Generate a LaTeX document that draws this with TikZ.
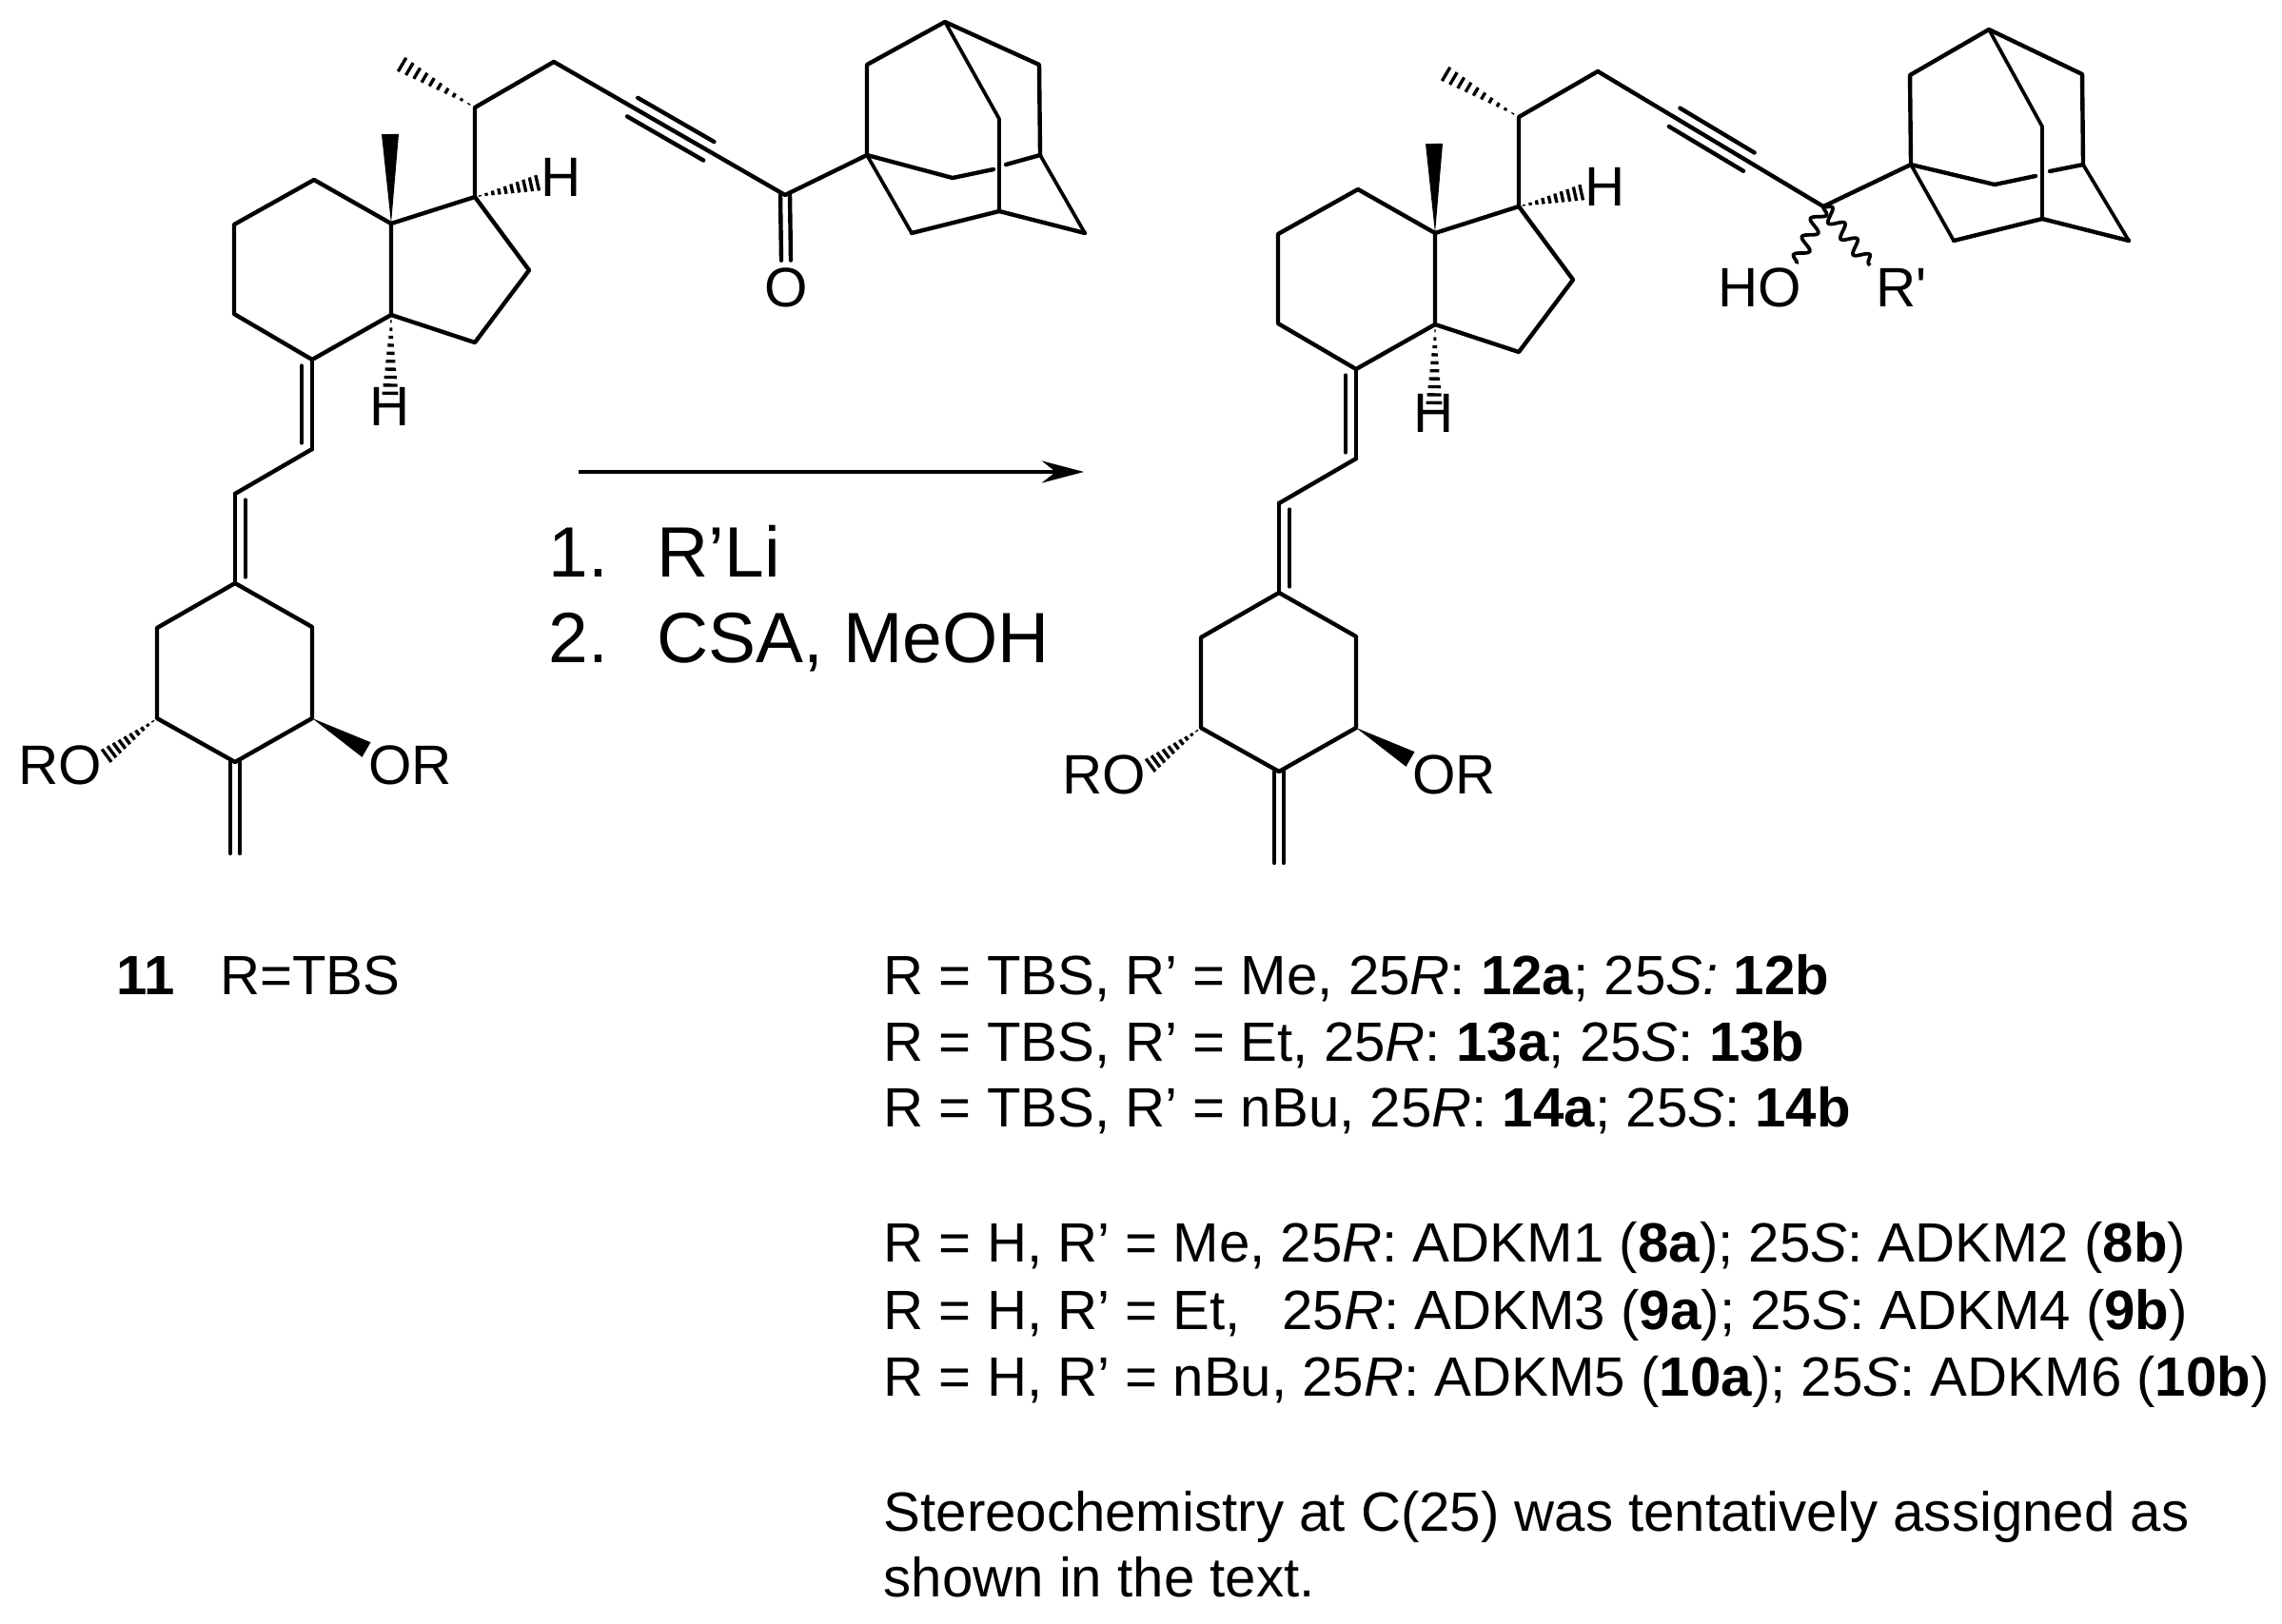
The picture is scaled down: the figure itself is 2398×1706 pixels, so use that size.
\documentclass[tikz,border=0pt]{standalone}
\usepackage{fontspec}
\setmainfont{Liberation Sans}
\usetikzlibrary{calc, positioning, arrows.meta, decorations.pathmorphing}
\tikzset{
    x=0.01cm, y=-0.01cm,
    bond/.style={line width=1.25pt, line join=round, line cap=round},
    thinbond/.style={line width=1.05pt, line join=round, line cap=round},
    atom/.style={inner sep=0pt, font=\fontsize{16.6}{16.6}\selectfont},
    reagent/.style={inner sep=0pt, anchor=base west, font=\fontsize{21.3}{21.3}\selectfont},
    legend/.style={inner sep=0pt, anchor=base west, font=\fontsize{16.55}{16.55}\selectfont},
    wavy/.style={line width=1.05pt, decorate, decoration={snake, segment length=6pt, amplitude=2pt}},
}
% hash, wedge and multiple bonds between named atoms
\newcommand{\hashbond}[3]{
    \foreach \t in {0.08,0.18,...,1.0}
        \draw[line width=0.95pt] ($(#1)!\t!(#2)!{\t*#3}!90:(#2)$) -- ($(#1)!\t!(#2)!{\t*#3}!-90:(#2)$);
}
\newcommand{\wedgebond}[3]{
    \fill (#1) -- ($(#2)!#3!90:(#1)$) -- ($(#2)!#3!-90:(#1)$) -- cycle;
}
\newcommand{\dblbond}[3]{
    \draw[bond] (#1) -- (#2);
    \draw[bond] ($(#1)!0.07!(#2)!#3!90:(#2)$) -- ($(#2)!0.07!(#1)!#3!-90:(#1)$);
}
\newcommand{\eqbond}[3]{
    \draw[bond] ($(#1)!#3!90:(#2)$) -- ($(#2)!#3!-90:(#1)$);
    \draw[bond] ($(#1)!#3!-90:(#2)$) -- ($(#2)!#3!90:(#1)$);
}
\newcommand{\triplebond}[2]{
    \draw[bond] ($(#1)!0.34!(#2)!3.2pt!90:(#2)$) -- ($(#1)!0.67!(#2)!3.2pt!90:(#2)$);
    \draw[bond] ($(#1)!0.34!(#2)!3.2pt!-90:(#2)$) -- ($(#1)!0.67!(#2)!3.2pt!-90:(#2)$);
}
% the part both molecules share
\newcommand{\seco}[1]{
    \coordinate (ca) at (411,235);
    \coordinate (cb) at (330,189);
    \coordinate (cc) at (246,236);
    \coordinate (cd) at (246,330);
    \coordinate (ce) at (328,378);
    \coordinate (cf) at (411,331);
    \coordinate (cg) at (499,207);
    \coordinate (ch) at (556,284);
    \coordinate (ci) at (499,360);
    \coordinate (cj) at (499,113);
    \coordinate (me) at (421,67);
    \coordinate (ck) at (582,65);
    \coordinate (mt) at (410,141);
    \coordinate (hg) at (566,192);
    \coordinate (hf) at (410,415);
    \coordinate (cl) at (328,472);
    \coordinate (cm) at (247,519);
    \coordinate (cn) at (247,613);
    \coordinate (co) at (165,660);
    \coordinate (cp) at (165,755);
    \coordinate (cq) at (247,801);
    \coordinate (cr) at (328,755);
    \coordinate (cs) at (328,659);
    \coordinate (ct) at (247,897);
    \coordinate (ho) at (111,795);
    \coordinate (wo) at (385,788);
    \node[atom] (hh) at (590,186) {H};
    \node[atom] (hb) at (410,#1) {H};
    \node[atom] (ro) at (63,804) {RO};
    \node[atom] (or) at (431,804) {OR};
    \draw[bond] (ca) -- (cb) -- (cc) -- (cd) -- (ce) -- (cf) -- cycle;
    \draw[bond] (ca) -- (cg) -- (ch) -- (ci) -- (cf);
    \draw[bond] (cg) -- (cj) -- (ck);
    \draw[bond] (cl) -- (cm);
    \draw[bond] (cn) -- (co) -- (cp) -- (cq) -- (cr) -- (cs) -- cycle;
    \dblbond{cl}{ce}{0.11cm}
    \dblbond{cm}{cn}{0.11cm}
    \eqbond{cq}{ct}{0.05cm}
    \wedgebond{ca}{mt}{0.09cm}
    \wedgebond{cr}{wo}{0.09cm}
    \hashbond{cj}{me}{0.085cm}
    \hashbond{cg}{hg}{0.085cm}
    \hashbond{cf}{hf}{0.085cm}
    \hashbond{cp}{ho}{0.085cm}
}
\begin{document}
\begin{tikzpicture}
    \useasboundingbox (0,0) rectangle (2398,1706);

    % starting ketone
    \begin{scope}[name prefix=l]
        \seco{427}
    \end{scope}
    \coordinate (kco) at (825,205);
    \coordinate (kb) at (911,163);
    \coordinate (kc) at (911,68);
    \coordinate (kd) at (993,23);
    \coordinate (ke) at (1092,68);
    \coordinate (kf) at (1093,163);
    \coordinate (kg) at (1050,125);
    \coordinate (kh) at (1050,222);
    \coordinate (ki) at (958,245);
    \coordinate (kj) at (1001,187);
    \coordinate (kk) at (1140,245);
    \coordinate (kgapa) at (1044,178);
    \coordinate (kgapb) at (1057,173);
    \node[atom] (koxy) at (826,302) {O};
    \coordinate (kotop) at ($(koxy.north)+(0,-7)$);
    \draw[bond] (lck) -- (kco) -- (kb);
    \triplebond{lck}{kco}
    \eqbond{kco}{kotop}{0.05cm}
    \draw[bond] (kb) -- (kc) -- (kd) -- (ke) -- (kf);
    \draw[thinbond] (kd) -- (kg) -- (kh);
    \draw[bond] (kh) -- (kk);
    \draw[thinbond] (kk) -- (kf);
    \draw[thinbond] (kb) -- (ki);
    \draw[bond] (ki) -- (kh);
    \draw[bond] (kb) -- (kj) -- (kgapa);
    \draw[bond] (kgapb) -- (kf);

    % arrow and reagents
    \coordinate (arrowa) at (608,496);
    \coordinate (arrowb) at (1139,496);
    \draw[line width=1.3pt, -{Stealth[length=0.44cm,width=0.23cm]}] (arrowa) -- (arrowb);
    \node[reagent] (numa) at (576,606) {1.};
    \node[reagent] (rgta) at (690,606) {R’Li};
    \node[reagent] (numb) at (576,696) {2.};
    \node[reagent] (rgtb) at (690,696) {CSA, MeOH};

    % product
    \begin{scope}[shift={(1097,10)}, name prefix=r]
        \seco{424}
    \end{scope}
    \coordinate (pco) at (1916,217);
    \coordinate (pb) at (2008,173);
    \coordinate (pc) at (2007,79);
    \coordinate (pd) at (2090,31);
    \coordinate (pe) at (2188,78);
    \coordinate (pf) at (2189,173);
    \coordinate (pg) at (2146,133);
    \coordinate (ph) at (2146,230);
    \coordinate (pi) at (2053,253);
    \coordinate (pj) at (2096,194);
    \coordinate (pk) at (2237,253);
    \coordinate (pgapa) at (2139,185);
    \coordinate (pgapb) at (2154,180);
    \coordinate (wa) at (1888,277);
    \coordinate (wb) at (1965,279);
    \node[atom] (hydroxy) at (1849,302) {HO};
    \node[atom] (rprime) at (1998,302) {R\textquotesingle};
    \draw[bond] (rck) -- (pco) -- (pb);
    \triplebond{rck}{pco}
    \draw[wavy] (pco) -- (wa);
    \draw[wavy] (pco) -- (wb);
    \draw[bond] (pb) -- (pc) -- (pd) -- (pe) -- (pf);
    \draw[thinbond] (pd) -- (pg) -- (ph);
    \draw[bond] (ph) -- (pk);
    \draw[thinbond] (pk) -- (pf);
    \draw[thinbond] (pb) -- (pi);
    \draw[bond] (pi) -- (ph);
    \draw[bond] (pb) -- (pj) -- (pgapa);
    \draw[bond] (pgapb) -- (pf);

    % compound labels
    \node[legend] (cpd) at (122,1045) {\textbf{11}\hspace{0.81em}R=TBS};
    \node[legend] (rowa) at (928,1045) {R = TBS, R’ = Me, 25\textit{R}: \textbf{12a}; 25\textit{S:} \textbf{12b}};
    \node[legend] (rowb) at (928,1115) {R = TBS, R’ = Et, 25\textit{R}: \textbf{13a}; 25\textit{S}: \textbf{13b}};
    \node[legend] (rowc) at (928,1184) {R = TBS, R’ = nBu, 25\textit{R}: \textbf{14a}; 25\textit{S}: \textbf{14b}};
    \node[legend] (rowd) at (928,1326) {R = H, R’ = Me, 25\textit{R}: ADKM1 (\textbf{8a}); 25\textit{S}: ADKM2 (\textbf{8b})};
    \node[legend] (rowe) at (928,1397) {R = H, R’ = Et,\hspace{0.75em}25\textit{R}: ADKM3 (\textbf{9a}); 25\textit{S}: ADKM4 (\textbf{9b})};
    \node[legend] (rowf) at (928,1467) {R = H, R’ = nBu, 25\textit{R}: ADKM5 (\textbf{10a}); 25\textit{S}: ADKM6 (\textbf{10b})};
    \node[legend] (rowg) at (928,1609) {Stereochemistry at C(25) was tentatively assigned as};
    \node[legend] (rowh) at (928,1678) {shown in the text.};
\end{tikzpicture}
\end{document}
